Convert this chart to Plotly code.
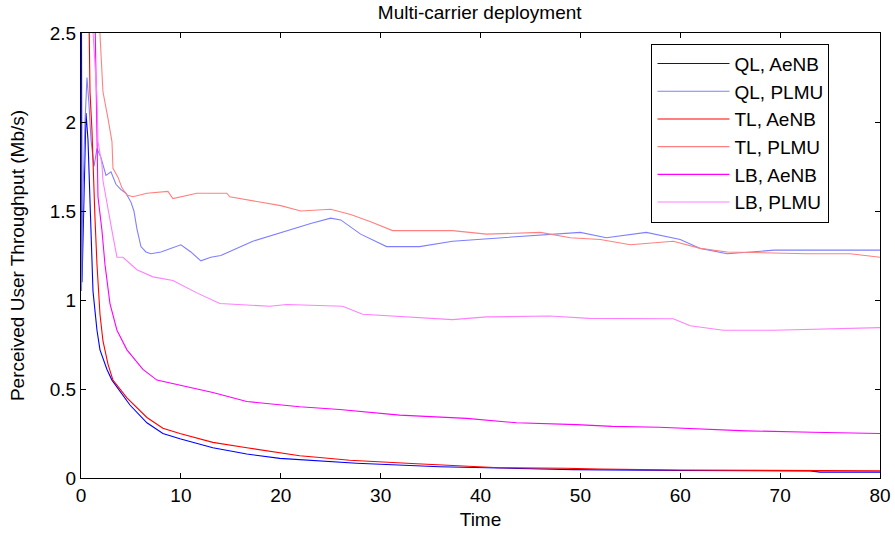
import plotly.graph_objects as go

# ---- data ----
ql_aenb_x = [0, 0.05, 0.1, 0.3, 0.5, 0.7, 0.9, 1.1, 1.2, 1.6, 1.9, 2.6, 3.1, 4.9, 6.6, 8.2, 9.9, 13.2, 16.6, 19.9, 23.9, 27.6, 35.9, 41.9, 49.3, 60, 73, 74, 80]
ql_aenb_y = [2.6, 2.5, 1.1, 1.6, 2.05, 1.9, 1.6, 1.3, 1.05, 0.83, 0.72, 0.61, 0.55, 0.41, 0.31, 0.25, 0.22, 0.17, 0.135, 0.11, 0.095, 0.083, 0.063, 0.056, 0.047, 0.042, 0.04, 0.033, 0.033]

ql_plmu_x = [0.05, 0.2, 0.4, 0.6, 0.8, 1.0, 1.3, 1.6, 2.0, 2.5, 3.0, 3.5, 4.0, 4.5, 5.0, 5.3, 5.6, 6.0, 6.5, 7, 8, 9, 10, 11, 12, 13, 14, 17.2, 20.6, 23, 25, 26, 28, 30.6, 33.9, 37.2, 42.2, 46.9, 50, 52.6, 56.6, 60, 62, 64.7, 69.4, 77.1, 80]
ql_plmu_y = [1.05, 1.6, 2.0, 2.25, 2.1, 1.9, 1.75, 1.85, 1.8, 1.7, 1.72, 1.65, 1.62, 1.6, 1.55, 1.5, 1.4, 1.3, 1.27, 1.26, 1.27, 1.29, 1.31, 1.27, 1.22, 1.24, 1.25, 1.33, 1.39, 1.43, 1.46, 1.45, 1.37, 1.30, 1.30, 1.33, 1.35, 1.37, 1.38, 1.35, 1.38, 1.34, 1.29, 1.26, 1.28, 1.28, 1.28]

tl_aenb_x = [0.8, 0.9, 1.1, 1.2, 1.4, 1.6, 1.9, 2.2, 2.7, 3.2, 4.6, 6.6, 8.2, 9.9, 13.2, 16.6, 19.9, 21.9, 23.9, 26.9, 33.6, 41.9, 48.6, 51.9, 60, 70, 80]
tl_aenb_y = [2.6, 2.17, 1.95, 1.76, 1.46, 1.2, 0.92, 0.77, 0.64, 0.55, 0.45, 0.34, 0.28, 0.25, 0.2, 0.17, 0.14, 0.125, 0.115, 0.10, 0.08, 0.058, 0.055, 0.05, 0.045, 0.042, 0.04]

tl_plmu_x = [1.8, 1.9, 2.2, 2.7, 3.1, 3.2, 3.7, 4.1, 4.6, 5.2, 6.6, 8.7, 9.2, 11.6, 14.6, 14.9, 17, 20, 22, 25, 27, 29, 31.2, 35, 37.2, 40.6, 46, 49, 52, 55, 59.3, 62, 64.7, 72.7, 77, 80]
tl_plmu_y = [2.6, 2.47, 2.17, 2.02, 1.89, 1.74, 1.69, 1.63, 1.59, 1.58, 1.60, 1.61, 1.57, 1.60, 1.60, 1.58, 1.56, 1.53, 1.50, 1.51, 1.48, 1.44, 1.39, 1.39, 1.39, 1.37, 1.38, 1.35, 1.34, 1.31, 1.33, 1.29, 1.27, 1.26, 1.26, 1.24]

lb_aenb_x = [1.4, 1.6, 1.7, 2.1, 2.4, 2.9, 3.6, 4.6, 6.2, 7.6, 9.9, 13.2, 16.6, 19.9, 21.9, 25.9, 31.9, 38.6, 43.6, 49.6, 53.2, 57.9, 66.6, 73.2, 80]
lb_aenb_y = [2.6, 1.95, 1.58, 1.39, 1.2, 0.98, 0.83, 0.72, 0.61, 0.55, 0.52, 0.48, 0.43, 0.41, 0.40, 0.385, 0.353, 0.335, 0.31, 0.30, 0.29, 0.285, 0.265, 0.257, 0.25]

lb_plmu_x = [1.1, 1.2, 1.6, 1.7, 2.1, 2.2, 2.7, 3.1, 3.6, 4.2, 5.6, 7.2, 9.2, 11.6, 13.9, 18.9, 20.6, 26.2, 28.2, 33.9, 37.2, 40.6, 46.9, 50.9, 59.3, 61, 64.3, 69.4, 76.1, 80]
lb_plmu_y = [2.6, 2.5, 2.14, 1.89, 1.76, 1.67, 1.5, 1.39, 1.24, 1.24, 1.17, 1.13, 1.11, 1.04, 0.98, 0.965, 0.975, 0.965, 0.92, 0.90, 0.89, 0.905, 0.91, 0.897, 0.895, 0.855, 0.83, 0.83, 0.84, 0.845]

series_names = ["QL, AeNB", "QL, PLMU", "TL, AeNB", "TL, PLMU", "LB, AeNB", "LB, PLMU"]
series_x = [ql_aenb_x, ql_plmu_x, tl_aenb_x, tl_plmu_x, lb_aenb_x, lb_plmu_x]
series_y = [ql_aenb_y, ql_plmu_y, tl_aenb_y, tl_plmu_y, lb_aenb_y, lb_plmu_y]
series_colors = ["#0000FF", "#7F7FFF", "#FF0000", "#FF8080", "#FF00FF", "#FF80FF"]

x_ticks = [0, 10, 20, 30, 40, 50, 60, 70, 80]
y_ticks = [0, 0.5, 1, 1.5, 2, 2.5]
y_tick_text = ["0", "0.5", "1", "1.5", "2", "2.5"]

FONT = "Liberation Sans, Arial, sans-serif"

fig = go.Figure()
for i, (n, xs, ys, c) in enumerate(zip(series_names, series_x, series_y, series_colors)):
    fig.add_trace(go.Scatter(x=xs, y=ys, mode="lines", name=n,
                             line=dict(color=c, width=1.1),
                             legendgroup=str(i)))

axis_common = dict(showline=True, linecolor="black", linewidth=1, mirror="ticks",
                   ticks="inside", ticklen=5, tickcolor="black", showgrid=False,
                   zeroline=False, automargin=False,
                   tickfont=dict(family=FONT, size=19, color="black"))

fig.update_layout(
    width=895, height=533,
    margin=dict(l=81, r=15, t=33, b=55),
    paper_bgcolor="white", plot_bgcolor="white",
    font=dict(family=FONT, color="black"),
    title=dict(text="Multi-carrier deployment", x=0.536, xanchor="center",
               y=0.976, yanchor="middle", font=dict(family=FONT, size=19)),
    xaxis=dict(range=[0, 80], tickvals=x_ticks,
               title=dict(text="Time", font=dict(family=FONT, size=19), standoff=7),
               **axis_common),
    yaxis=dict(range=[0, 2.5], tickvals=y_ticks, ticktext=y_tick_text,
               title=dict(text="Perceived User Throughput (Mb/s)", font=dict(family=FONT, size=19), standoff=20),
               **axis_common),
    legend=dict(x=0.714, y=0.976, xanchor="left", yanchor="top",
                bordercolor="black", borderwidth=1, bgcolor="white",
                font=dict(family=FONT, size=19), tracegroupgap=0,
                itemwidth=72, traceorder="grouped"),
    showlegend=True,
)

fig.write_html("out.html")
